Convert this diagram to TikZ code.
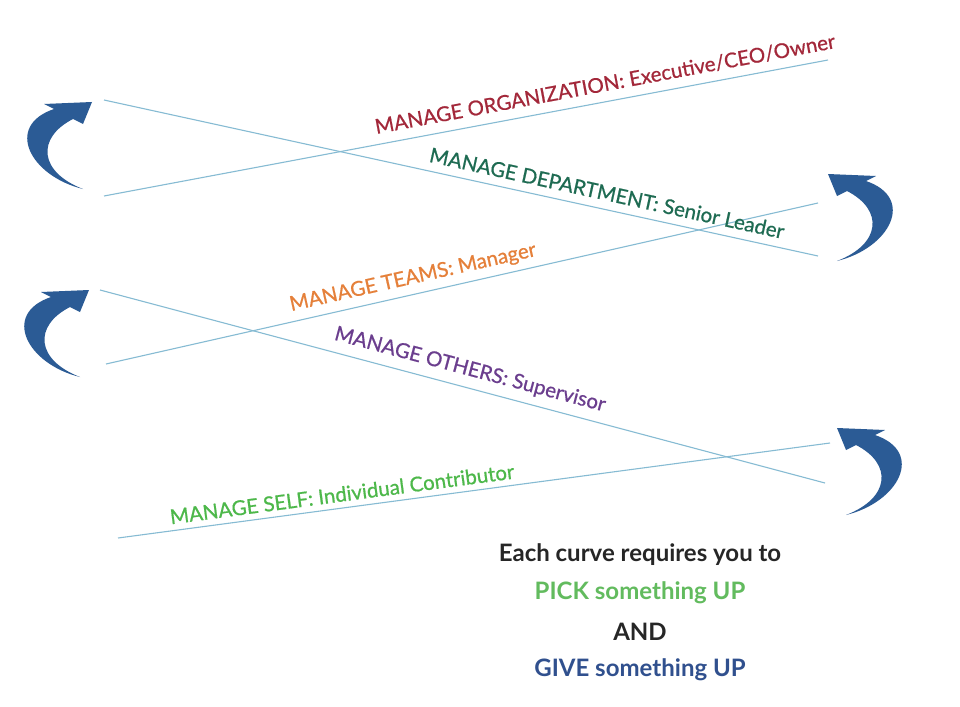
\documentclass[tikz,border=0pt]{standalone}
\usepackage{fontspec}
\setmainfont{Lato}
\newfontfamily\labelfont[FakeBold=0.7]{Lato}
\definecolor{lineblue}{HTML}{86BBD3}
\definecolor{arrowblue}{HTML}{2B5B95}
\definecolor{orgred}{HTML}{A3283A}
\definecolor{deptgreen}{HTML}{1E6B52}
\definecolor{teamorange}{HTML}{E5803A}
\definecolor{otherpurple}{HTML}{6B3E8E}
\definecolor{selfgreen}{HTML}{4DB84A}
\definecolor{pickgreen}{HTML}{62BB5E}
\definecolor{giveblue}{HTML}{30508E}
\newcommand\myarrowpath{(0,0) -- (-9,22) -- (-19,17)
      .. controls (-56,36) and (-53,70) .. (-9,87)
      .. controls (-62,74) and (-88,24) .. (-38,7)
      -- (-48,2) -- cycle}
\tikzset{
  curveline/.style={draw=lineblue, line width=1.1pt},
  lvl/.style={font=\labelfont\fontsize{20.5}{23}\selectfont, inner sep=0pt, anchor=center},
  msg/.style={font=\fontsize{24}{28}\selectfont\bfseries, inner sep=0pt, anchor=center},
  upfill/.style={fill=arrowblue}
}
\begin{document}
\begin{tikzpicture}[x=1pt,y=-1pt]
\useasboundingbox[fill=white] (0,0) rectangle (960,706);
% line end points
\coordinate (o1) at (104,196); \coordinate (o2) at (828,60);
\coordinate (d1) at (104,100); \coordinate (d2) at (818,256);
\coordinate (t1) at (106,364); \coordinate (t2) at (818,203);
\coordinate (p1) at (100,290); \coordinate (p2) at (825,483);
\coordinate (s1) at (118,538); \coordinate (s2) at (830,443);
\draw[curveline] (o1) -- (o2);
\draw[curveline] (d1) -- (d2);
\draw[curveline] (t1) -- (t2);
\draw[curveline] (p1) -- (p2);
\draw[curveline] (s1) -- (s2);
% labels
\node[lvl, text=orgred, rotate=10.6] (org) at (605,84) {MANAGE ORGANIZATION: Executive/CEO/Owner};
\node[lvl, text=deptgreen, rotate=-12.3] (dept) at (607,193) {MANAGE DEPARTMENT: Senior Leader};
\node[lvl, text=teamorange, rotate=12.7] (team) at (413,278) {MANAGE TEAMS: Manager};
\node[lvl, text=otherpurple, rotate=-14.9] (other) at (470,370) {MANAGE OTHERS: Supervisor};
\node[lvl, text=selfgreen, rotate=7.6] (self) at (342,494) {MANAGE SELF: Individual Contributor};
% curved arrows
\fill[upfill, shift={(92,102)}] \myarrowpath;
\fill[upfill, shift={(89,290)}] \myarrowpath;
\fill[upfill, shift={(828,174)}, xscale=-1] \myarrowpath;
\fill[upfill, shift={(837,428)}, xscale=-1] \myarrowpath;
% message
\node[msg, text=black!85] (m1) at (640,555) {Each curve requires you to};
\node[msg, text=pickgreen] (m2) at (640,593) {PICK something UP};
\node[msg, text=black!85] (m3) at (640,632) {AND};
\node[msg, text=giveblue] (m4) at (640,670) {GIVE something UP};
\end{tikzpicture}
\end{document}
